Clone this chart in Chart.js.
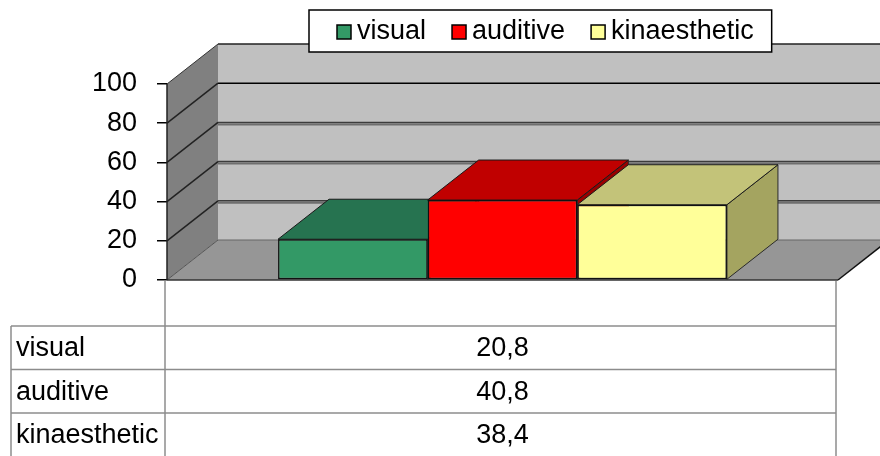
<!DOCTYPE html>
<html>
<head>
<meta charset="utf-8">
<script src="https://cdn.jsdelivr.net/npm/chart.js@4.4.1/dist/chart.umd.min.js"></script>
<style>
  html, body { margin: 0; padding: 0; background: #fff; }
  #wrap { width: 880px; height: 456px; }
</style>
</head>
<body>
<div id="wrap"><canvas id="myChart"></canvas></div>
<script>
// Data
const categories = [''];
const seriesNames = ['visual', 'auditive', 'kinaesthetic'];
const visualValues = [20.8];
const auditiveValues = [40.8];
const kinaestheticValues = [38.4];
const yTicks = [0, 20, 40, 60, 80, 100];

// styles
const frontColors = ['#339966', '#ff0000', '#ffff99'];
const topColors = ['#267350', '#c00000', '#c3c379'];
const sideColors = ['#1f5e41', '#990000', '#a4a460'];
const FONT = "'Liberation Sans', Arial, sans-serif";
const FONT_SIZE = 27;
const DEPTH_X = 51, DEPTH_Y = -40;

function poly(ctx, pts, fill, stroke, lw) {
    ctx.beginPath();
    ctx.moveTo(pts[0][0], pts[0][1]);
    for (let i = 1; i < pts.length; i++) ctx.lineTo(pts[i][0], pts[i][1]);
    ctx.closePath();
    if (fill) { ctx.fillStyle = fill; ctx.fill(); }
    if (stroke) { ctx.strokeStyle = stroke; ctx.lineWidth = lw || 1; ctx.stroke(); }
}

function line(ctx, x1, y1, x2, y2, color, lw) {
    ctx.beginPath();
    ctx.moveTo(x1, y1);
    ctx.lineTo(x2, y2);
    ctx.strokeStyle = color;
    ctx.lineWidth = lw;
    ctx.stroke();
}

// walls, floor and the top/side faces of the bars
const box3d = {
    id: 'box3d',
    beforeDatasetsDraw(chart) {
        const ctx = chart.ctx;
        const a = chart.chartArea;
        const ys = chart.scales.y;
        const dx = DEPTH_X, dy = DEPTH_Y;
        const y0 = ys.getPixelForValue(yTicks[0]);
        const yTop = ys.getPixelForValue(yTicks[yTicks.length - 1]);
        ctx.save();

        // back wall
        ctx.fillStyle = '#c0c0c0';
        ctx.fillRect(a.left + dx, yTop + dy, a.right - a.left, y0 - yTop);
        // side wall
        poly(ctx, [[a.left, y0], [a.left, yTop], [a.left + dx, yTop + dy], [a.left + dx, y0 + dy]], '#808080');
        // floor
        poly(ctx, [[a.left, y0], [a.left + dx, y0 + dy], [a.right + dx, y0 + dy], [a.right, y0]], '#969696');

        // gridlines on back wall and side wall
        yTicks.forEach(function (v, i) {
            const py = ys.getPixelForValue(v);
            if (i > 0 && i < yTicks.length - 1) {
                if (i < yTicks.length - 2) {
                    line(ctx, a.left + dx, py + dy + 2, a.right + dx, py + dy + 2, '#6e6e6e', 2);
                    line(ctx, a.left + dx, py + dy, a.right + dx, py + dy, '#3c3c3c', 1.5);
                } else {
                    line(ctx, a.left + dx, py + dy, a.right + dx, py + dy, '#000', 1.5);
                }
                line(ctx, a.left, py, a.left + dx, py + dy, '#222', 1.5);
            }
        });
        // top edges
        line(ctx, a.left + dx, yTop + dy, a.right + dx, yTop + dy, '#222', 1.5);
        line(ctx, a.left, yTop, a.left + dx, yTop + dy, '#333', 1);
        // floor edges
        line(ctx, a.left, y0, a.left + dx, y0 + dy, '#555', 1);
        line(ctx, a.left + dx, y0 + dy, a.right + dx, y0 + dy, '#666', 1);
        line(ctx, a.left, y0, a.right, y0, '#333', 1.5);
        line(ctx, a.right, y0, a.right + dx, y0 + dy, '#111', 1.5);
        // front left edge of side wall
        line(ctx, a.left, yTop, a.left, y0, '#222', 1.5);

        // bar top and side faces
        chart.data.datasets.forEach(function (ds, i) {
            const meta = chart.getDatasetMeta(i);
            meta.data.forEach(function (bar) {
                const l = bar.x - bar.width / 2, r = bar.x + bar.width / 2;
                const t = bar.y, b = bar.base;
                poly(ctx, [[r, t], [r + dx, t + dy], [r + dx, b + dy], [r, b]], sideColors[i], '#2a2a2a', 1);
                poly(ctx, [[l, t], [l + dx, t + dy], [r + dx, t + dy], [r, t]], topColors[i], '#1a1a1a', 1);
            });
        });
        ctx.restore();
    },
    afterDraw(chart) {
        const ctx = chart.ctx;
        const a = chart.chartArea;
        ctx.save();
        ctx.font = FONT_SIZE + 'px ' + FONT;
        ctx.textBaseline = 'middle';

        // legend with a frame
        const lgX = 309, lgY = 10, lgH = 42, sw = 14;
        let x = lgX + 28;
        const items = [];
        seriesNames.forEach(function (name, i) {
            const w = ctx.measureText(name).width;
            items.push({ name: name, x: x, w: w, color: frontColors[i] });
            x += sw + 6 + w + 26;
        });
        const lgW = x - 26 + 18 - lgX;
        ctx.fillStyle = '#fff';
        ctx.fillRect(lgX, lgY, lgW, lgH);
        ctx.strokeStyle = '#000';
        ctx.lineWidth = 1.5;
        ctx.strokeRect(lgX, lgY, lgW, lgH);
        items.forEach(function (it) {
            const cy = lgY + lgH / 2;
            ctx.fillStyle = it.color;
            ctx.fillRect(it.x, cy - sw / 2 + 1, sw, sw);
            ctx.strokeStyle = '#000';
            ctx.lineWidth = 1.5;
            ctx.strokeRect(it.x, cy - sw / 2 + 1, sw, sw);
            ctx.fillStyle = '#000';
            ctx.textAlign = 'left';
            ctx.fillText(it.name, it.x + sw + 6, cy + 1);
        });

        // data table
        const tableTop = 326, rowH = 43.5, tableLeft = 11;
        const colDiv = a.left - 2, tableRight = a.right - 2;
        const H = chart.height;
        ctx.strokeStyle = '#8c8c8c';
        ctx.lineWidth = 1.5;
        line(ctx, colDiv, a.bottom + 1, colDiv, H, '#8c8c8c', 1.5);
        line(ctx, tableRight, a.bottom + 1, tableRight, H, '#8c8c8c', 1.5);
        line(ctx, tableLeft, tableTop, tableLeft, H, '#8c8c8c', 1.5);
        const allValues = [visualValues, auditiveValues, kinaestheticValues];
        seriesNames.forEach(function (name, i) {
            const ry = tableTop + i * rowH;
            line(ctx, tableLeft, ry, tableRight, ry, '#8c8c8c', 1.5);
            ctx.fillStyle = '#000';
            ctx.textAlign = 'left';
            ctx.fillText(name, tableLeft + 5, ry + rowH / 2 + 1);
            ctx.textAlign = 'center';
            ctx.fillText(allValues[i][0].toFixed(1).replace('.', ','), (a.left + a.right) / 2, ry + rowH / 2 + 1);
        });
        ctx.restore();
    }
};

const ctx = document.getElementById('myChart').getContext('2d');
const myChart = new Chart(ctx, {
    type: 'bar',
    data: {
        labels: categories,
        datasets: [
            { label: seriesNames[0], data: visualValues, backgroundColor: frontColors[0] },
            { label: seriesNames[1], data: auditiveValues, backgroundColor: frontColors[1] },
            { label: seriesNames[2], data: kinaestheticValues, backgroundColor: frontColors[2] }
        ]
    },
    options: {
        responsive: true,
        maintainAspectRatio: false,
        animation: false,
        layout: { padding: { left: 0, right: 42, top: 84, bottom: 176 } },
        datasets: {
            bar: {
                categoryPercentage: 0.669,
                barPercentage: 1,
                borderWidth: 1.5,
                borderColor: '#111',
                borderSkipped: false
            }
        },
        plugins: {
            legend: { display: false },
            tooltip: { enabled: false }
        },
        scales: {
            x: { display: false },
            y: {
                min: yTicks[0],
                max: yTicks[yTicks.length - 1],
                afterFit: function (scale) { scale.width = 167; },
                afterBuildTicks: function (scale) {
                    scale.ticks = yTicks.map(function (v) { return { value: v }; });
                },
                border: { display: false },
                grid: { drawOnChartArea: false, drawTicks: true, tickLength: 10, color: '#000', lineWidth: 1.5 },
                ticks: { color: '#000', padding: 20, font: { family: FONT, size: FONT_SIZE } }
            }
        }
    },
    plugins: [box3d]
});
</script>
</body>
</html>
